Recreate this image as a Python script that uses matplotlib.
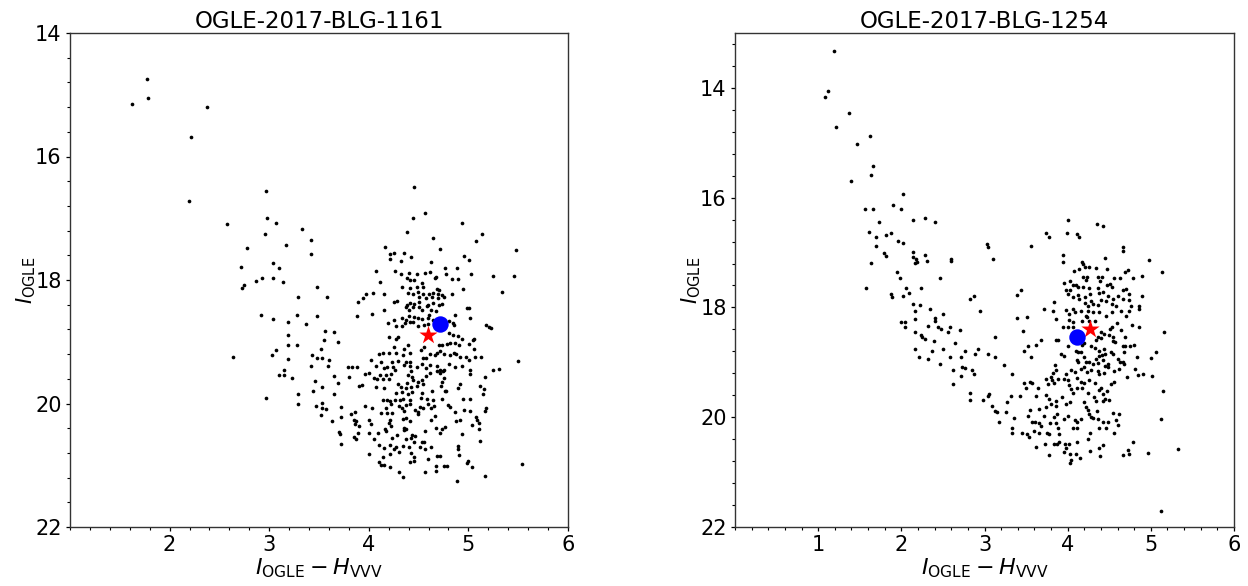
import matplotlib
matplotlib.use("Agg")
import matplotlib.pyplot as plt
from matplotlib.ticker import AutoMinorLocator, FixedLocator, MultipleLocator
import numpy as np

# ---------------- data: (I-H colour, I magnitude) ----------------
titles = ["OGLE-2017-BLG-1161", "OGLE-2017-BLG-1254"]

left_upper = [(1.62,15.15),(1.77,14.75),(1.78,15.05),(2.38,15.20),(2.21,15.68),(2.19,16.72),(2.97,16.56),
 (2.58,17.09),(2.98,17.00),(3.07,17.07),(2.96,17.26),(3.33,17.17),(3.42,17.36),(3.17,17.44),(2.78,17.48),
 (3.42,17.58),(3.04,17.72),(3.10,17.80),(2.72,17.79),(2.93,17.96),(3.04,17.96),(2.87,18.01),(3.14,18.03),
 (3.48,18.12),(2.75,18.08),(2.73,18.13),(3.29,18.28),(3.58,18.28)]

left_clump = [(4.45,16.50),(4.56,16.92),(4.44,17.00),(4.94,17.07),(4.38,17.22),(5.14,17.26),(4.64,17.32),
 (5.08,17.37),(4.16,17.47),(4.71,17.50),(5.48,17.51),(4.21,17.58),(4.25,17.56),(4.21,17.66),(4.35,17.56),
 (4.42,17.63),(4.32,17.69),(4.96,17.61),(5.01,17.68),(4.62,17.71),(4.77,17.80),(4.89,17.80),(4.07,17.85),
 (4.26,17.86),(4.32,17.90),(4.40,17.89),(4.48,17.90),(4.56,17.88),(4.61,17.87),(4.78,17.90),(5.03,17.90),
 (5.25,17.93),(5.46,17.93),(4.38,17.97),(4.41,18.00),(4.45,18.00),(4.66,17.96),(4.67,17.95),(4.84,17.98),
 (4.90,17.98),(4.11,18.03),(4.53,18.05),(4.33,18.11),(4.41,18.13),(4.48,18.11),(4.54,18.12),(4.95,18.15),
 (4.68,18.15),(4.70,18.17),(5.34,18.19),(3.97,18.23),(4.04,18.21),(4.15,18.23),(4.39,18.21),(4.44,18.22),
 (4.49,18.20),(4.54,18.23),(4.60,18.23),(4.64,18.21),(4.69,18.22),(4.73,18.25),(4.84,18.22),(3.94,18.29),
 (4.50,18.28),(4.57,18.29),(4.63,18.27),(4.69,18.29),(4.75,18.27),(4.25,18.36),(4.28,18.34),(3.89,18.36),
 (4.38,18.41),(4.41,18.38),(4.45,18.39),(4.50,18.35),(4.59,18.41),(4.64,18.38),(4.70,18.40),(4.73,18.39),
 (4.15,18.48),(4.37,18.44),(4.40,18.48),(4.44,18.44),(4.50,18.44),(4.53,18.48),(4.58,18.42),(4.62,18.48),
 (4.67,18.51),(4.99,18.46),(5.01,18.46),(3.88,18.59),(4.03,18.55),(4.25,18.64),(4.33,18.62),(4.37,18.65),
 (4.40,18.58),(4.45,18.60),(4.49,18.61),(4.53,18.63),(4.59,18.62),(4.60,18.57),(4.64,18.64),(4.87,18.57),
 (5.02,18.62),(4.19,18.69),(4.27,18.75),(4.33,18.75),(4.36,18.70),(4.41,18.68),(4.44,18.68),(4.49,18.75),
 (4.55,18.73),(4.59,18.71),(4.81,18.66),(4.85,18.69),(4.86,18.73),(5.18,18.73),(5.21,18.76),(5.23,18.78),
 (3.65,18.84),(4.20,18.92),(4.27,18.95),(4.29,18.93),(4.81,18.86),(4.85,18.89),(4.90,18.90),(4.94,18.95),
 (5.06,18.95)]

left_branch = [(2.92,18.56),(3.04,18.63),(3.28,18.56),(3.48,18.58),(3.19,18.68),(3.37,18.72),(3.56,18.83),
 (3.19,18.89),(3.55,18.97),(3.69,19.00),(2.64,19.25),(3.03,19.22),(3.07,19.14),(3.19,19.06),(3.28,19.06),
 (3.19,19.28),(3.43,19.22),(3.48,19.27),(3.52,19.12),(3.53,19.26),(3.60,19.30),(3.42,19.40),(3.59,19.40),
 (3.15,19.45),(3.10,19.54),(3.15,19.54),(3.23,19.59),(3.46,19.63),(3.65,19.55),(3.69,19.67),(3.53,19.73),
 (3.44,19.80),(2.97,19.91),(3.29,19.84),(3.65,19.85),(3.29,20.01),(3.47,20.04),(3.53,19.99),(3.53,20.08),
 (3.57,20.09),(3.52,20.18),(3.72,20.06),(3.63,20.28),(3.72,20.22),(3.70,20.46),(3.71,20.49),(3.72,20.66),
 (3.79,19.41),(3.83,19.41),(3.88,19.41),(3.80,19.57),(3.96,19.53),(3.90,19.72),(3.93,19.70),(3.82,20.17),
 (3.86,20.14),(3.85,20.27),(3.87,20.28),(3.86,20.33),(3.90,20.36),(3.96,20.04),(3.89,20.47),(3.85,20.54),
 (3.87,20.57),(4.00,20.47)]

left_faint = [(4.25,19.08),(4.35,19.11),(4.39,19.06),(4.52,19.14),(4.55,19.09),(4.70,19.06),(4.73,19.05),
 (4.79,19.03),(4.82,19.02),(4.87,19.02),(4.91,19.05),(5.01,19.03),(5.06,19.11),(5.05,18.97),(4.10,19.20),
 (4.14,19.18),(4.20,19.19),(4.27,19.19),(4.34,19.22),(4.41,19.19),(4.54,19.27),(4.57,19.27),(4.61,19.20),
 (4.66,19.21),(4.68,19.19),(4.71,19.15),(4.76,19.20),(4.82,19.21),(4.86,19.19),(4.88,19.20),(4.92,19.25),
 (4.98,19.25),(5.01,19.29),(5.07,19.25),(5.13,19.25),(4.02,19.29),(4.12,19.32),(4.23,19.32),(4.29,19.31),
 (4.37,19.33),(4.41,19.32),(4.07,19.39),(4.15,19.43),(4.18,19.41),(4.24,19.41),(4.26,19.45),(4.35,19.37),
 (4.41,19.39),(4.42,19.48),(4.48,19.41),(4.53,19.36),(4.57,19.42),(4.61,19.38),(4.68,19.39),(4.71,19.45),
 (4.75,19.45),(4.81,19.36),(4.87,19.41),(4.94,19.39),(5.02,19.45),(5.25,19.45),(5.31,19.44),(5.50,19.31),
 (4.00,19.51),(4.11,19.54),(4.17,19.54),(4.22,19.53),(4.39,19.54),(4.43,19.57),(4.57,19.55),(4.61,19.51),
 (4.68,19.48),(4.71,19.51),(4.74,19.48),(5.02,19.53),(4.05,19.59),(4.08,19.61),(4.14,19.60),(4.20,19.60),
 (4.29,19.68),(4.38,19.67),(4.44,19.62),(4.49,19.65),(4.53,19.62),(4.73,19.65),(4.76,19.59),(4.92,19.68),
 (4.90,19.75),(5.17,19.57),(4.07,19.74),(4.15,19.75),(4.32,19.74),(4.37,19.75),(4.42,19.74),(4.48,19.72),
 (4.54,19.68),(4.72,19.71),(4.77,19.79),(5.12,19.72),(5.16,19.77),(4.27,19.83),(4.33,19.81),(4.39,19.84),
 (4.43,19.81),(4.53,19.83),(4.63,19.79),(4.78,19.80),(5.15,19.85),(4.14,19.95),(4.18,19.95),(4.21,19.96),
 (4.26,19.94),(4.31,19.95),(4.34,19.92),(4.41,19.95),(4.52,19.91),(4.58,19.92),(4.64,19.95),(4.73,19.93),
 (4.95,19.92),(5.02,19.92),(4.03,20.07),(4.17,20.07),(4.22,20.01),(4.30,20.04),(4.33,20.07),(4.35,20.12),
 (4.37,20.03),(4.41,20.00),(4.46,20.11),(4.49,20.13),(4.51,20.06),(4.54,20.07),(4.59,20.01),(4.62,20.08),
 (4.65,20.04),(4.80,20.02),(4.82,20.06),(4.96,20.11),(5.02,20.12),(5.18,20.07),(5.17,20.12),(4.87,20.13),
 (4.12,20.16),(4.18,20.16),(4.23,20.16),(4.49,20.17),(4.00,20.26),(4.21,20.27),(4.34,20.25),(4.37,20.24),
 (4.41,20.28),(4.62,20.26),(4.66,20.20),(4.92,20.26),(4.88,20.29),(5.08,20.22),(5.09,20.26),(5.11,20.32),
 (5.04,20.35),(4.02,20.33),(4.20,20.32),(4.22,20.36),(4.35,20.39),(4.37,20.42),(4.77,20.38),(4.67,20.40),
 (4.73,20.41),(5.11,20.41),(4.09,20.47),(4.16,20.42),(4.17,20.45),(4.28,20.51),(4.35,20.43),(4.43,20.51),
 (4.46,20.52),(4.56,20.44),(4.71,20.47),(4.05,20.58),(4.23,20.56),(4.37,20.57),(4.42,20.56),(4.45,20.63),
 (4.53,20.63),(4.55,20.63),(4.94,20.50),(4.10,20.68),(4.15,20.72),(4.21,20.67),(4.25,20.73),(4.27,20.70),
 (4.34,20.69),(4.40,20.71),(4.51,20.70),(4.56,20.73),(4.62,20.70),(4.90,20.69),(4.90,20.73),(5.12,20.61),
 (4.00,20.82),(4.14,20.87),(4.21,20.82),(4.30,20.78),(4.42,20.80),(4.45,20.87),(4.68,20.85),(4.71,20.85),
 (4.91,20.83),(4.10,20.95),(4.12,20.99),(4.15,21.00),(4.21,21.03),(4.41,20.95),(4.45,20.93),(4.59,20.90),
 (5.00,20.93),(4.99,20.97),(4.67,21.02),(4.75,21.01),(4.79,21.02),(5.04,21.03),(5.54,20.98),(4.30,21.11),
 (4.34,21.19),(4.56,21.11),(4.67,21.10),(5.17,21.17),(4.89,21.25)]

right_upper = [(1.19,13.33),(1.12,14.06),(1.08,14.16),(1.37,14.46),(1.22,14.71),(1.62,14.87),(1.47,15.02),
 (1.66,15.43),(1.64,15.58),(1.40,15.69),(2.02,15.94),(1.90,16.14),(1.56,16.21),(1.66,16.20),(2.00,16.21),
 (2.14,16.40),(2.29,16.37),(2.40,16.45),(1.73,16.44),(1.61,16.62),(1.88,16.64),(1.81,16.68),(1.70,16.72),
 (1.96,16.79),(2.02,16.82),(1.69,16.88),(1.79,17.00),(1.81,17.07),(2.14,16.99),(2.14,17.08),(2.18,17.11),
 (2.16,17.19),(2.19,17.18),(2.28,17.04),(2.31,17.15),(1.64,17.19),(2.60,17.11),(2.60,17.16),(3.03,16.85),
 (3.04,16.89),(3.10,17.11),(1.95,17.36),(1.98,17.46),(2.47,17.46),(1.57,17.64),(2.06,17.64),(2.24,17.64),
 (1.88,17.75),(1.89,17.81),(2.02,17.79),(2.09,17.74),(2.87,17.80),(2.83,17.85)]

right_branch = [(3.56,16.88),(3.44,17.68),(3.39,17.78),(3.83,17.90),(2.14,17.94),(2.23,17.95),(3.72,18.03),
 (3.82,18.06),(2.16,18.07),(2.34,18.03),(2.50,18.12),(2.94,18.07),(2.40,18.19),(2.41,18.24),(2.17,18.21),
 (1.99,18.27),(2.05,18.27),(2.05,18.35),(3.39,18.20),(3.51,18.17),(3.86,18.21),(2.44,18.36),(2.48,18.39),
 (2.59,18.35),(2.56,18.44),(2.16,18.45),(2.32,18.33),(2.71,18.42),(3.46,18.43),(3.86,18.59),(3.88,18.60),
 (2.24,18.51),(2.25,18.54),(2.29,18.58),(2.39,18.62),(3.13,18.54),(3.68,18.60),(2.64,18.65),(2.16,18.76),
 (2.50,18.75),(2.37,18.79),(2.76,18.79),(2.92,18.76),(2.89,18.85),(3.52,18.70),(3.62,18.68),(3.47,18.79),
 (2.21,18.90),(2.32,18.94),(2.58,18.91),(2.72,18.91),(3.04,18.85),(3.13,18.91),(3.56,18.91),(2.46,19.03),
 (2.62,19.14),(2.73,19.09),(2.77,19.11),(2.85,19.14),(2.87,19.21),(2.72,19.24),(3.24,19.04),(3.33,19.21),
 (3.85,19.05),(3.86,19.14),(3.82,19.20),(3.80,19.27),(2.62,19.40),(3.48,19.37),(3.50,19.47),(3.55,19.35),
 (3.57,19.37),(3.74,19.30),(3.76,19.40),(3.81,19.32),(3.84,19.38),(3.88,19.30),(3.64,19.47),(3.32,19.61),
 (3.43,19.61),(2.82,19.55),(2.83,19.68),(3.06,19.58),(3.04,19.61),(2.98,19.69),(3.62,19.61),(3.74,19.59),
 (3.78,19.67),(3.80,19.76),(3.86,19.70),(3.09,19.79),(3.13,19.88),(3.15,19.91),(3.27,19.73),(3.26,19.91),
 (3.55,19.87),(3.66,19.85),(3.74,19.81),(3.86,19.79),(3.72,19.97),(3.83,20.00),(3.87,19.94),(3.18,20.09),
 (3.36,20.01),(3.52,19.97),(3.57,20.09),(3.61,20.09),(3.66,20.11),(3.68,20.16),(3.79,20.11),(3.86,20.11),
 (3.33,20.19),(3.33,20.29),(3.45,20.29),(3.51,20.31),(3.53,20.36),(3.60,20.25),(3.65,20.28),(3.75,20.29),
 (3.78,20.31),(3.88,20.20),(3.89,20.31)]

right_faint = [(3.62,20.54),(3.73,20.48),(3.78,20.68),(3.84,20.48),(3.87,20.48),(3.89,20.46),(3.97,20.49),
 (4.02,20.48),(3.95,20.63),(3.98,20.56),(4.03,20.67),(4.04,20.78),(4.03,20.84),(4.11,20.46),(4.10,20.67),
 (4.15,20.74),(4.24,20.40),(4.27,20.29),(4.27,20.61),(4.38,20.56),(4.43,20.50),(4.39,20.70),(4.56,20.29),
 (4.67,20.68),(4.73,20.59),(4.74,20.67),(4.78,20.46),(4.97,20.65),(5.33,20.57),(5.12,21.70)]

right_clump = [(4.00,16.40),(4.35,16.48),(4.43,16.51),(3.74,16.65),(3.78,16.71),(3.99,16.65),(4.11,16.67),
 (4.14,16.72),(4.66,16.89),(4.66,16.97),(3.94,17.04),(3.94,17.18),(4.45,17.10),(4.98,17.14),(4.17,17.17),
 (4.18,17.21),(4.08,17.34),(4.14,17.30),(4.21,17.27),(4.26,17.27),(4.34,17.29),(4.47,17.30),(5.13,17.36),
 (4.72,17.32),(4.69,17.36),(4.18,17.44),(4.23,17.45),(4.22,17.50),(4.37,17.45),(4.39,17.51),(4.41,17.44),
 (4.56,17.47),(4.63,17.46),(4.79,17.46),(4.89,17.43),(3.96,17.55),(4.03,17.51),(4.07,17.60),(4.10,17.60),
 (4.12,17.62),(4.18,17.62),(3.98,17.69),(4.03,17.68),(4.26,17.64),(4.36,17.64),(4.38,17.74),(4.47,17.60),
 (4.51,17.58),(4.53,17.63),(4.67,17.69),(4.70,17.66),(4.74,17.75),(4.43,17.72),(4.48,17.80),(4.60,17.80),
 (4.54,17.84),(4.89,17.79),(4.01,17.75),(4.07,17.81),(4.13,17.78),(4.14,17.84),(4.21,17.81),(4.27,17.75),
 (4.28,17.88),(4.21,17.92),(4.24,17.98),(4.30,17.94),(4.36,17.95),(4.40,17.86),(4.46,17.89),(4.53,17.94),
 (4.58,17.98),(4.67,17.84),(4.74,17.87),(4.86,17.98),(4.86,18.02),(4.76,17.97),(4.74,18.06),(3.98,18.05),
 (4.02,18.12),(4.07,18.03),(4.09,18.09),(4.16,18.07),(4.22,18.15),(4.25,18.06),(4.31,18.09),(4.38,18.09),
 (4.46,18.16),(4.53,18.09),(4.64,18.06),(4.70,18.15),(4.59,18.29),(4.53,18.35),(4.51,18.39),(4.77,18.32),
 (4.86,18.36),(3.94,18.36),(4.02,18.23),(4.07,18.27),(4.17,18.24),(4.23,18.18),(4.26,18.24),(4.33,18.24),
 (4.01,18.36),(4.07,18.35),(4.40,18.45),(4.44,18.49),(4.50,18.51),(4.54,18.54),(4.64,18.41),(4.69,18.53),
 (5.16,18.44),(4.36,18.54),(4.40,18.56),(4.20,18.65),(4.17,18.68),(4.34,18.59),(4.55,18.61),(4.57,18.63),
 (4.67,18.70),(4.69,18.71),(4.75,18.71),(4.80,18.68),(4.33,18.74),(4.38,18.79),(4.44,18.76),(4.45,18.85),
 (4.10,18.79),(4.13,18.82),(4.16,18.82),(4.01,18.71),(4.28,18.70),(4.52,18.81),(4.54,18.85),(4.68,18.81),
 (4.83,18.91),(5.06,18.82),(5.00,18.93),(3.92,18.85),(3.95,18.89),(4.11,18.96),(4.12,19.00),(4.20,18.91),
 (4.22,19.00),(4.26,18.99),(4.30,19.03),(4.34,18.94),(4.37,19.02),(4.38,18.88),(4.41,18.86),(4.43,18.95),
 (4.45,19.06),(4.48,19.03),(4.61,18.94),(4.63,19.00),(4.66,19.00),(4.68,19.03),(4.04,19.14),(3.98,19.21),
 (4.09,19.18),(4.16,19.12),(4.20,19.09),(4.23,19.18),(4.28,19.14),(4.36,19.15),(4.38,19.21),(4.44,19.20),
 (4.49,19.08),(4.56,19.15),(4.62,19.12),(4.71,19.26),(4.81,19.12),(4.85,19.23),(4.91,19.21),(5.02,19.24),
 (3.95,19.30),(4.00,19.33),(4.02,19.41),(4.04,19.49),(4.06,19.56),(4.11,19.29),(4.16,19.36),(4.20,19.38),
 (4.26,19.33),(4.33,19.38),(4.11,19.47),(4.17,19.46),(4.38,19.50),(4.40,19.47),(4.24,19.55),(4.32,19.63),
 (4.34,19.70),(4.42,19.58),(4.47,19.52),(4.52,19.40),(4.56,19.35),(4.45,19.67),(4.50,19.69),(4.43,19.71),
 (5.15,19.52),(3.93,19.63),(3.98,19.75),(4.03,19.73),(4.20,19.73),(4.22,19.82),(4.24,19.87),(4.26,19.94),
 (4.28,19.99),(4.31,20.02),(4.35,19.88),(4.36,20.03),(4.42,20.08),(4.48,20.09),(4.58,20.05),(4.55,19.93),
 (4.62,19.94),(4.09,20.05),(4.11,20.08),(4.16,20.03),(4.01,19.97),(3.96,20.03),(5.12,20.04),(4.38,20.20),
 (4.46,20.19),(4.60,20.15),(4.06,20.19),(4.11,20.20)]

# source (blue circle) and red star positions
source_pts = [(4.71, 18.71), (4.11, 18.54)]
star_pts = [(4.59, 18.89), (4.27, 18.40)]

xlims = [(1, 6), (0, 6)]
ylims = [(22, 14), (22, 13)]
xtick_vals = [[2, 3, 4, 5, 6], [1, 2, 3, 4, 5, 6]]

left_all = left_upper + left_clump + left_branch + left_faint
right_all = right_upper + right_branch + right_faint + right_clump
panels = [left_all, right_all]

# ---------------- figure ----------------
W, H = 1248, 586
fig = plt.figure(figsize=(W / 100, H / 100), dpi=100)
ax_boxes = [[70 / W, 59 / H, 498 / W, 494 / H],
            [735 / W, 59 / H, 499 / W, 494 / H]]

for i in range(2):
    ax = fig.add_axes(ax_boxes[i])
    pts = np.array(panels[i])
    ax.scatter(pts[:, 0], pts[:, 1], s=7, c="black", marker="o", linewidths=0, zorder=2)
    ax.scatter([star_pts[i][0]], [star_pts[i][1]], s=190, c="red", marker="*",
               linewidths=0, zorder=3)
    ax.scatter([source_pts[i][0]], [source_pts[i][1]], s=140, c="blue", marker="o",
               linewidths=0, zorder=4)
    ax.set_xlim(*xlims[i])
    ax.set_ylim(*ylims[i])
    ax.xaxis.set_major_locator(FixedLocator(xtick_vals[i]))
    ax.xaxis.set_minor_locator(MultipleLocator(0.2))
    ax.yaxis.set_major_locator(MultipleLocator(2))
    ax.yaxis.set_minor_locator(AutoMinorLocator(5))
    ax.tick_params(axis="both", which="major", labelsize=15, length=3.0, width=0.9, pad=3)
    ax.tick_params(axis="both", which="minor", length=2.0, width=0.8)
    for sp in ax.spines.values():
        sp.set_color("#333333")
        sp.set_linewidth(1.0)
    ax.set_title(titles[i], fontsize=16.5, pad=3)
    ax.set_xlabel(r"$I_{\rm OGLE} - H_{\rm VVV}$", fontsize=16, labelpad=1)
    ax.set_ylabel(r"$I_{\rm OGLE}$", fontsize=15, labelpad=-2)

fig.savefig("out.png", dpi=100)
